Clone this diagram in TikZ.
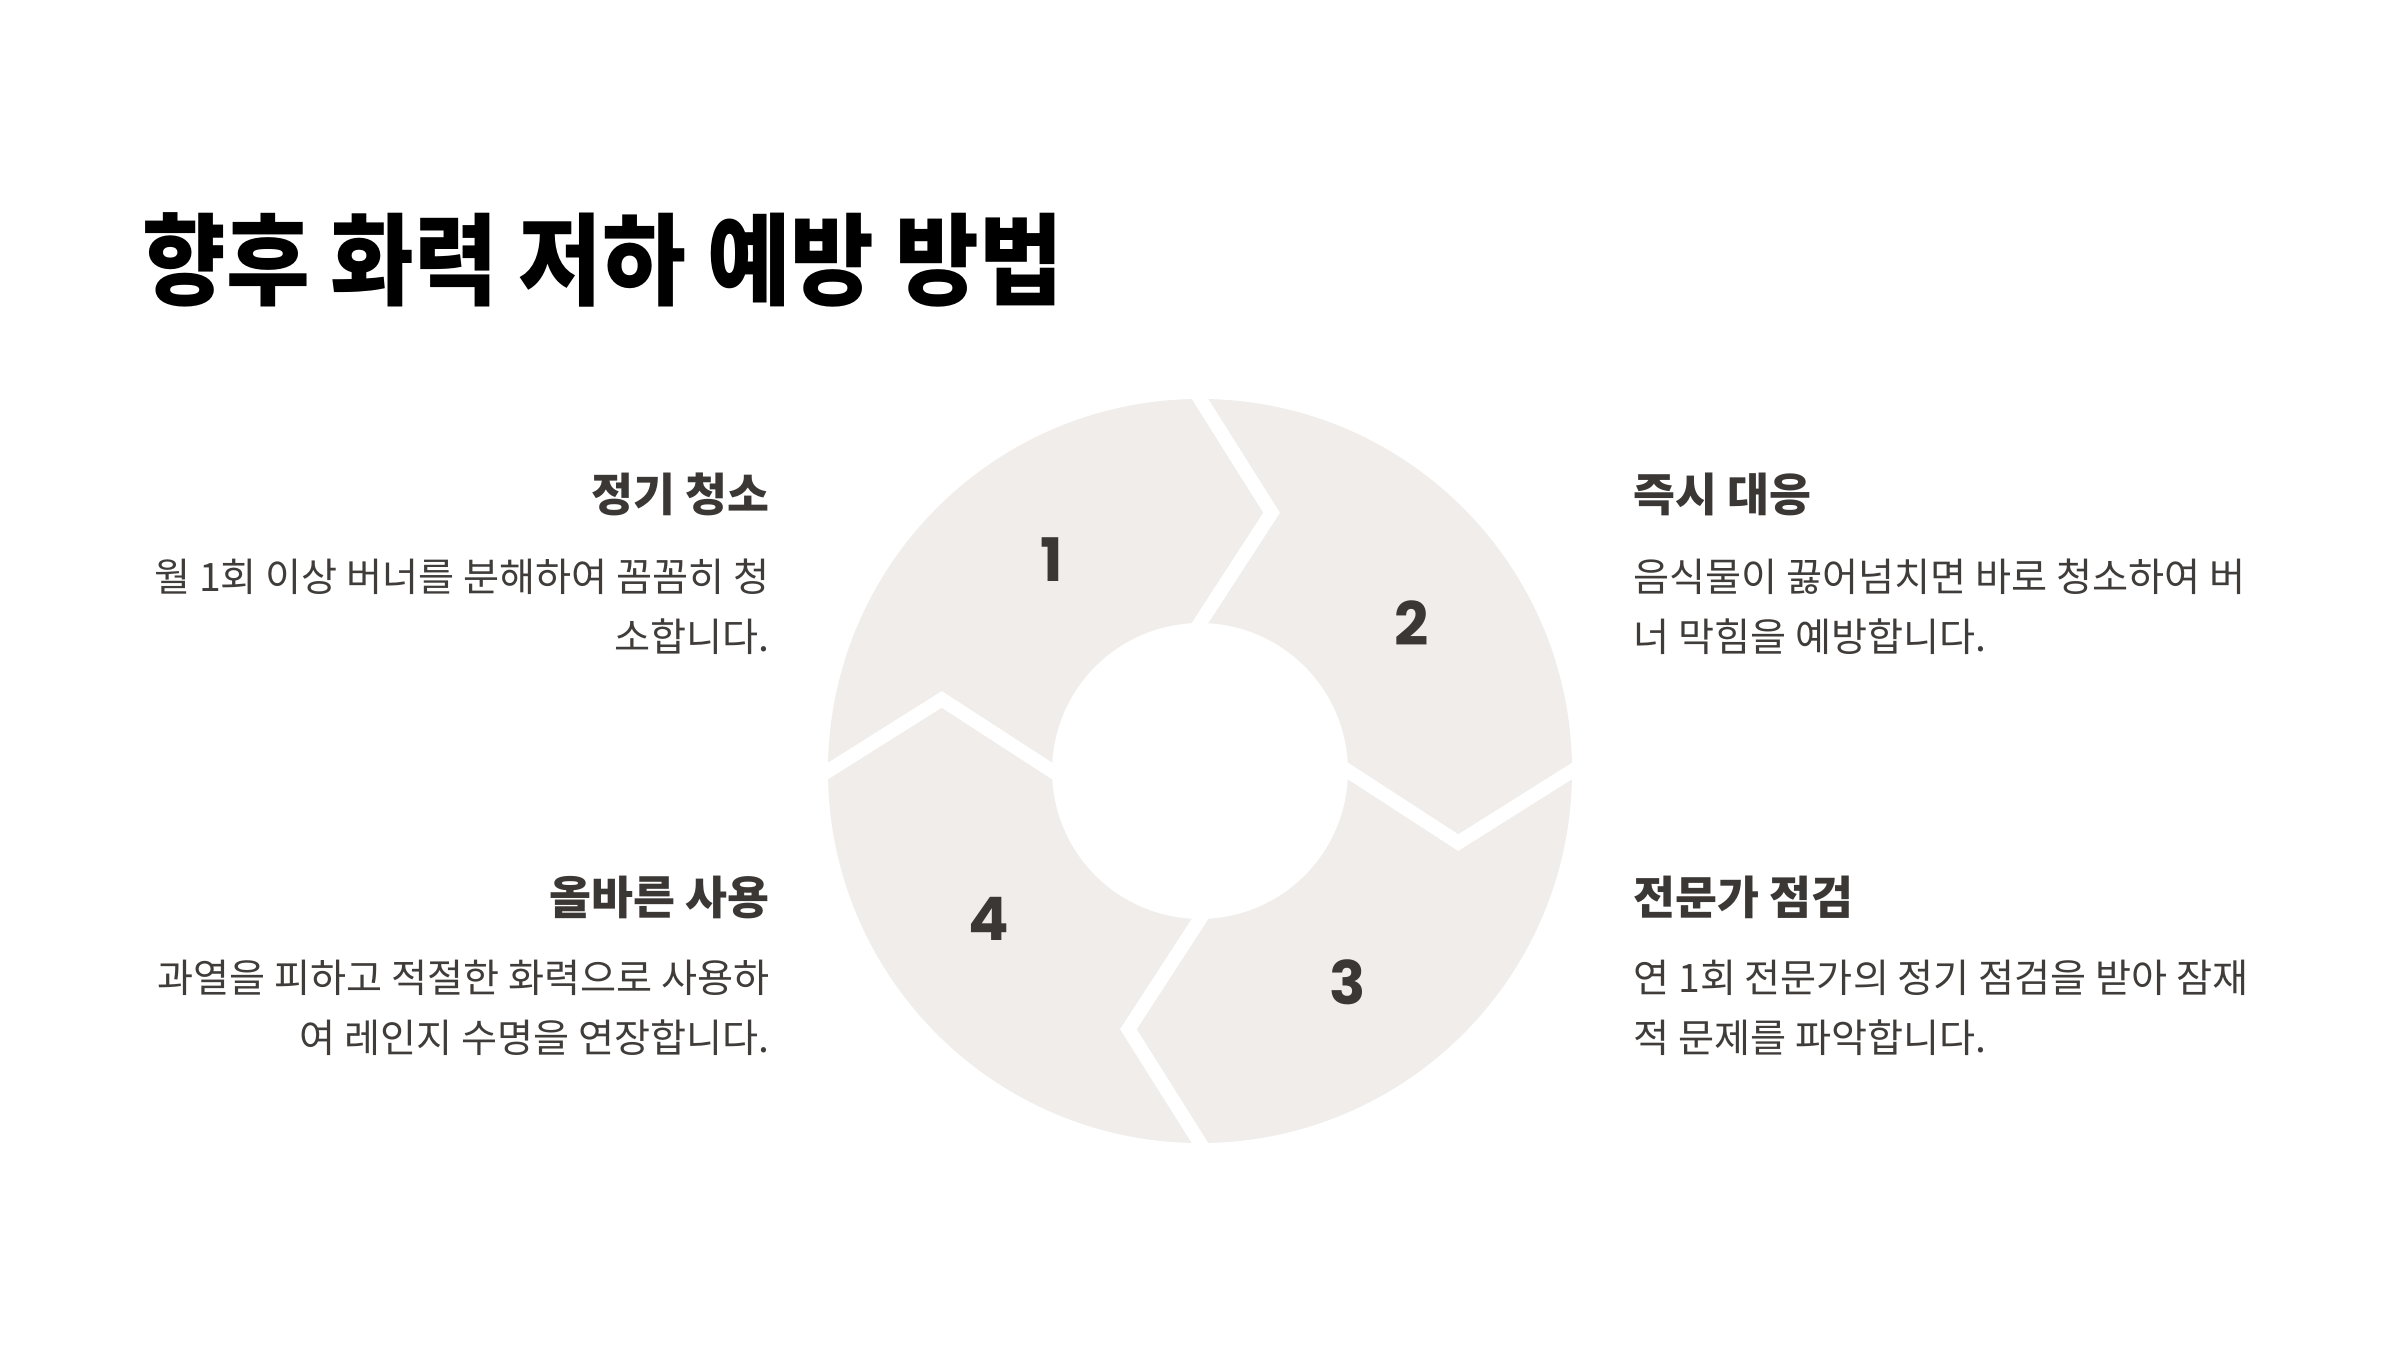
\documentclass[tikz,border=0pt]{standalone}
\usepackage{fontspec}
\usepackage{graphicx}
\newfontfamily\krfont{Noto Sans CJK KR}
\newfontfamily\numfont{Poppins}
\usetikzlibrary{calc}
\definecolor{ringfill}{HTML}{F0EDEB}
\definecolor{inkdark}{HTML}{3B3735}
\definecolor{bodyink}{HTML}{403C3A}
\begin{document}
\begin{tikzpicture}[x=0.5pt,y=0.5pt,
  titletext/.style={font=\krfont\bfseries\fontsize{50}{60}\selectfont, text=black, inner sep=0pt},
  headtext/.style={font=\krfont\bfseries\fontsize{22.8}{27}\selectfont, text=inkdark, inner sep=0pt},
  bodytext/.style={font=\krfont\fontsize{19.6}{24}\selectfont, text=bodyink, inner sep=0pt},
  digittext/.style={font=\numfont\bfseries\fontsize{30}{36}\selectfont, text=inkdark, inner sep=0pt},
  gapline/.style={draw=white, line width=7pt, line join=miter}
]
\path[use as bounding box, fill=white] (0,0) rectangle (2400,1350);

\node[titletext, anchor=west] (title) at (142,1090) {\scalebox{0.91}[1]{향후 화력 저하 예방 방법}};

% ring
\coordinate (C) at (1200,579);
\fill[ringfill, even odd rule] (C) circle[radius=372] (C) circle[radius=148];
\foreach \a in {90,180,270,0} {
  \coordinate (o\a) at ($(C)+(\a:372)$);
  \coordinate (t\a) at ($(C)+(\a-15.5:268)$);
  \coordinate (i\a) at ($(C)+(\a:148)$);
  \draw[gapline] ($(o\a)!-0.15!(t\a)$) -- (t\a) -- ($(i\a)!-0.3!(t\a)$);
}

\node[digittext] (n1) at ($(C)+(125:258)$) {1};
\node[digittext] (n2) at ($(C)+(35:258)$) {2};
\node[digittext] (n3) at ($(C)+(-55:258)$) {3};
\node[digittext] (n4) at ($(C)+(215:258)$) {4};

% left top
\node[headtext, anchor=east] (h1) at (770,856) {정기 청소};
\node[bodytext, anchor=east] (b1a) at (770,773) {월 1회 이상 버너를 분해하여 꼼꼼히 청};
\node[bodytext, anchor=east] (b1b) at (770,713) {소합니다.};
% right top
\node[headtext, anchor=west] (h2) at (1633,856) {즉시 대응};
\node[bodytext, anchor=west] (b2a) at (1633,773) {음식물이 끓어넘치면 바로 청소하여 버};
\node[bodytext, anchor=west] (b2b) at (1633,713) {너 막힘을 예방합니다.};
% right bottom
\node[headtext, anchor=west] (h3) at (1633,453) {전문가 점검};
\node[bodytext, anchor=west] (b3a) at (1633,372) {연 1회 전문가의 정기 점검을 받아 잠재};
\node[bodytext, anchor=west] (b3b) at (1633,312) {적 문제를 파악합니다.};
% left bottom
\node[headtext, anchor=east] (h4) at (770,453) {올바른 사용};
\node[bodytext, anchor=east] (b4a) at (770,372) {과열을 피하고 적절한 화력으로 사용하};
\node[bodytext, anchor=east] (b4b) at (770,312) {여 레인지 수명을 연장합니다.};
\end{tikzpicture}
\end{document}
